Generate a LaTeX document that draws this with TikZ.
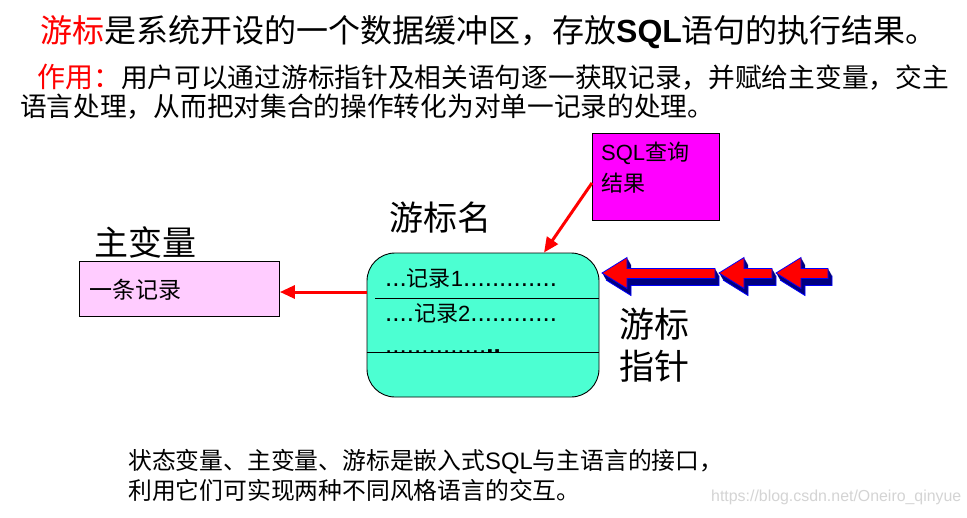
\documentclass[tikz,border=0pt]{standalone}
\usepackage{fontspec}
\setmainfont{Noto Sans CJK SC}
\newfontfamily\arial{Liberation Sans}
\usetikzlibrary{arrows.meta,calc}
\definecolor{curcol}{RGB}{76,255,210}
\definecolor{pinkbox}{RGB}{255,204,255}
\definecolor{magbox}{RGB}{255,0,255}
\definecolor{navyc}{RGB}{0,0,128}
\definecolor{wmark}{RGB}{212,212,212}
\newcommand{\fsz}[1]{\fontsize{#1}{#1}\selectfont}
\newcommand{\dotsz}[1]{{\arial\fontsize{26}{26}\selectfont #1}}
\newcommand{\cursorarrow}[2]{%
  \foreach \s in {1,0.875,0.75,0.625,0.5,0.375,0.25,0.125}{%
    \begin{scope}[shift={(4*\s,7*\s)}]
      \fill[navyc] (#1,273) -- ({#1+25},257.5) -- ({#1+25},268.5) -- (#2,268.5) -- (#2,278.5) -- ({#1+25},278.5) -- ({#1+25},288.5) -- cycle;
    \end{scope}}
  \begin{scope}[shift={(4,7)}]
    \draw[blue,line width=0.8pt] (#1,273) -- ({#1+25},288.5) -- ({#1+25},278.5) -- (#2,278.5) -- (#2,268.5);
  \end{scope}
  \fill[red,draw=blue,line width=0.8pt] (#1,273) -- ({#1+25},257.5) -- ({#1+25},268.5) -- (#2,268.5) -- (#2,278.5) -- ({#1+25},278.5) -- ({#1+25},288.5) -- cycle;
}
\begin{document}
\begin{tikzpicture}[x=1pt,y=-1pt,
  txt/.style={inner sep=0pt,anchor=west},
  lbl/.style={inner sep=0pt},
  redarrow/.style={draw=red,line width=3pt,-{Triangle[length=15pt,width=13pt]}},
  boxstyle/.style={draw=black,line width=0.9pt,inner sep=0pt,anchor=north west}]
\useasboundingbox (0,0) rectangle (967,517);
\fill[white] (0,0) rectangle (967,517);

% heading
\node[txt] (title) at (40,32) {\fsz{32}\textcolor{red}{游标}是系统开设的一个数据缓冲区，存放{\arial\bfseries SQL}语句的执行结果。};
\node[txt] (use1) at (37,77) {\textcolor{red}{\fsz{28}作用：}\fsz{26.7}用户可以通过游标指针及相关语句逐一获取记录，并赋给主变量，交主};
\node[txt] (use2) at (20,107) {\fsz{26.7}语言处理，从而把对集合的操作转化为对单一记录的处理。};

% SQL query result box
\node[boxstyle,fill=magbox,minimum width=127pt,minimum height=87pt] (sql) at (592,133) {};
\node[txt] (sqlt1) at (601,153) {\fsz{22}{\arial SQL}查询};
\node[txt] (sqlt2) at (601,183) {\fsz{22}结果};

% labels
\node[lbl] (zbl) at (145,242) {\fsz{34}主变量};
\node[lbl] (ybm) at (440,218) {\fsz{34}游标名};
\node[lbl] (yb) at (654,324) {\fsz{35}游标};
\node[lbl] (zz) at (654,366) {\fsz{35}指针};

% host variable box
\node[boxstyle,fill=pinkbox,minimum width=200pt,minimum height=55pt] (rec) at (79,261) {};
\node[txt] (rect) at (89,290) {\fsz{23}一条记录};

% cursor box
\node[draw=black,line width=0.9pt,fill=curcol,rounded corners=28pt,minimum width=232pt,minimum height=144pt,inner sep=0pt] (cur) at (483,325) {};
\draw[line width=0.9pt] (375,298) -- (cur.east |- 0,298);
\draw[line width=0.9pt] (cur.west |- 0,352) -- (cur.east |- 0,352);
\node[txt,anchor=base west] (r1) at (385,286) {\fsz{22}\dotsz{...}记录{\arial 1}\dotsz{.............}};
\node[txt,anchor=base west] (r2) at (385,321) {\fsz{22}\dotsz{....}记录{\arial 2}\dotsz{............}};
\node[txt,anchor=base west] (r3) at (385,353) {\dotsz{..............\textbf{..}}};

% connectors
\coordinate (curtop) at ($(cur.north west)!0.762!(cur.north east)$);
\draw[redarrow] ([yshift=-6pt]sql.west) -- (curtop);
\draw[redarrow] (cur.west |- 0,292) -- (rec.east |- 0,292);

% cursor pointer arrows
\cursorarrow{602}{715}
\cursorarrow{719}{772}
\cursorarrow{776}{828}

% bottom text
\node[txt] (b1) at (128,462) {\fsz{23.8}状态变量、主变量、游标是嵌入式{\arial SQL}与主语言的接口，};
\node[txt] (b2) at (128,490) {\fsz{23.8}利用它们可实现两种不同风格语言的交互。};
\node[txt] (wm) at (711,497) {\fsz{15.9}\arial\color{wmark}https://blog.csdn.net/Oneiro\_qinyue};
\end{tikzpicture}
\end{document}
